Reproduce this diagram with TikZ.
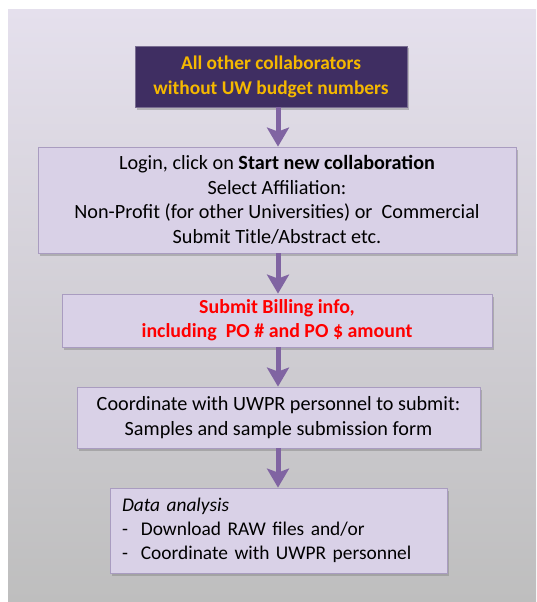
\documentclass[tikz,border=0pt]{standalone}
\usepackage{fontspec}
\setmainfont{Carlito}
\usepackage{tikz}
\usepackage{xcolor}
\usetikzlibrary{positioning, arrows.meta, shadows}
\definecolor{uwPurple}{HTML}{3F2E62}
\definecolor{uwGold}{HTML}{F5B800}
\definecolor{stepFill}{HTML}{D9D1E7}
\definecolor{stepEdge}{HTML}{A99CC0}
\definecolor{flowArrow}{HTML}{8064A2}
\definecolor{bgTop}{HTML}{E5E0ED}
\definecolor{bgBottom}{HTML}{BEBEBE}

\begin{document}
\begin{tikzpicture}[x=1pt, y=-1pt,
  stepbox/.style={draw=stepEdge, fill=stepFill, line width=0.8pt,
                  align=center, inner sep=0pt,
                  font=\fontsize{20.2}{24.5}\selectfont,
                  drop shadow={shadow xshift=1.5pt, shadow yshift=-2.5pt,
                               opacity=0.45}},
  startbox/.style={stepbox, fill=uwPurple, draw=uwPurple!70,
                   text=uwGold, font=\fontsize{19.4}{25}\selectfont\bfseries},
  flow/.style={draw=flowArrow, line width=5pt,
               -{Stealth[width=22pt, length=19pt, inset=4pt]}},
]
  \useasboundingbox (0,0) rectangle (537,602);
  % backdrop
  \shade[top color=bgTop, bottom color=bgBottom] (8,10) rectangle (536,602);

  \coordinate (axis) at (278,0);

  \node[startbox, minimum width=272pt, minimum height=61pt] (others) at (271,76.5)
    {All other collaborators\\without UW budget numbers};
  \node[stepbox, minimum width=478pt, minimum height=106pt] (login) at (277,200)
    {Login, click on \textbf{Start new collaboration}\\
     Select Affiliation:\\
     Non-Profit (for other Universities) or\ \ Commercial\\
     Submit Title/Abstract etc.};
  \node[stepbox, minimum width=430pt, minimum height=53pt,
        text=red, font=\fontsize{19.9}{24}\selectfont\bfseries] (billing) at (277,320.5)
    {Submit Billing info,\\including\ \ PO \# and PO \$ amount};
  \node[stepbox, minimum width=403pt, minimum height=61pt] (samples) at (278.5,417.5)
    {Coordinate with UWPR personnel to submit:\\Samples and sample submission form};
  \node[stepbox, minimum height=85pt, align=left, inner xsep=12pt,
        text width=313pt, font=\fontsize{19.4}{24}\selectfont] (analysis) at (278.5,530.5)
    {\textit{Data analysis}\\
     -\ \ Download RAW files and/or\\
     -\ \ Coordinate with UWPR personnel};

  % arrows between the steps
  \draw[flow] (others.south -| axis) -- (login.north -| axis);
  \draw[flow] (login.south -| axis) -- (billing.north -| axis);
  \draw[flow] (billing.south -| axis) -- (samples.north -| axis);
  \draw[flow] (samples.south -| axis) -- (analysis.north -| axis);
\end{tikzpicture}
\end{document}
